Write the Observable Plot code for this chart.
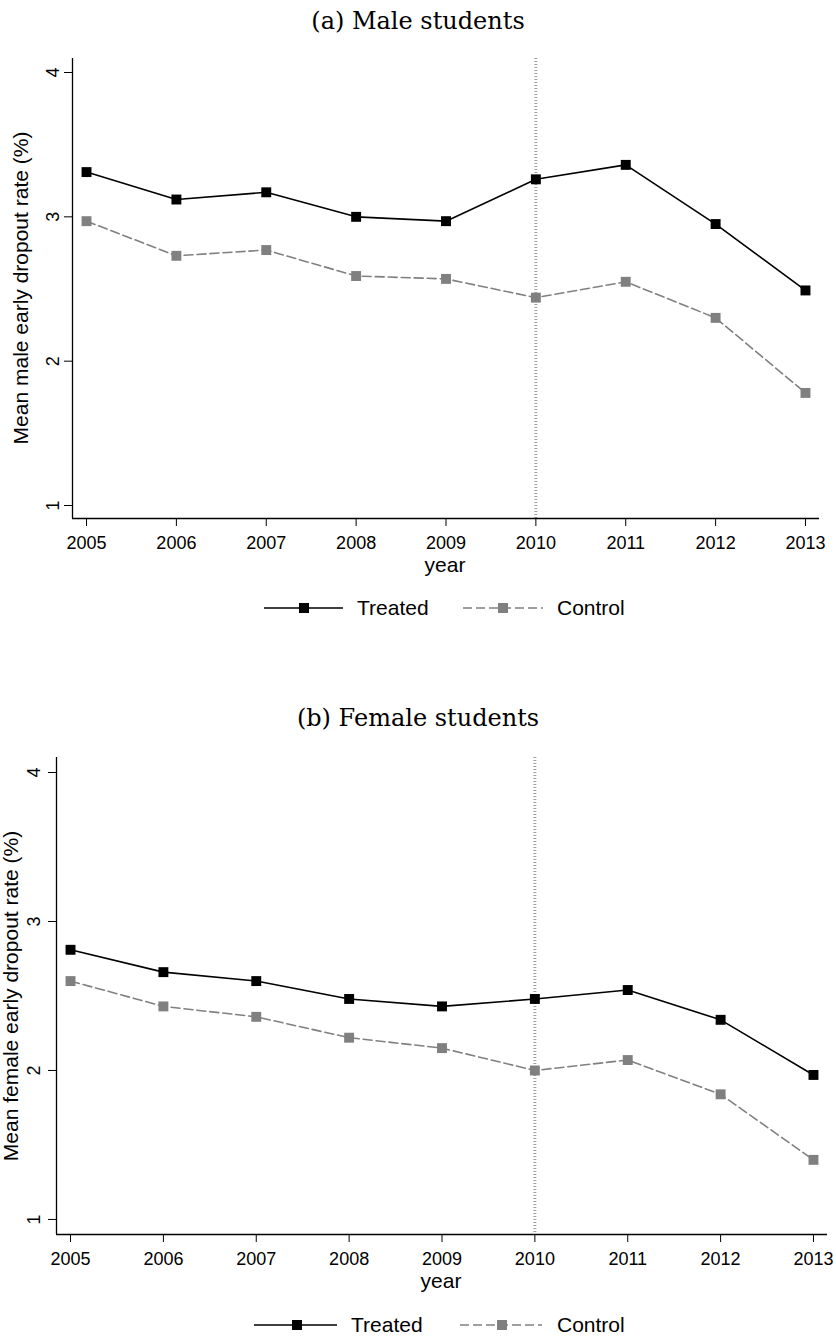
<!DOCTYPE html>
<html><head><meta charset="utf-8">
<script src="https://cdn.jsdelivr.net/npm/d3@7"></script>
<script src="https://cdn.jsdelivr.net/npm/@observablehq/plot@0.6"></script>
<style>
body{margin:0;background:#fff;}
#wrap{position:relative;width:836px;height:1339px;overflow:hidden;background:#fff;font-family:"Liberation Sans",Arial,sans-serif;color:#000;}
.abs{position:absolute;white-space:nowrap;}
.title{left:0;width:836px;text-align:center;font-family:"DejaVu Serif",serif;font-size:24px;transform:translateY(-50%);}
.axlab{font-size:21px;transform:translate(-50%,-50%);}
.ylab{font-size:21px;transform:translate(-50%,-50%) rotate(-90deg);}
.legtext{font-size:21px;transform:translateY(-50%);}
.panel{position:absolute;left:0;}
.panel text{font-size:18px;}
</style></head><body><div id="wrap"></div>
<script>
// ---- data ----
const years = [2005, 2006, 2007, 2008, 2009, 2010, 2011, 2012, 2013];
const yTicks = [1, 2, 3, 4];
const maleTreated   = [3.31, 3.12, 3.17, 3.00, 2.97, 3.26, 3.36, 2.95, 2.49];
const maleControl   = [2.97, 2.73, 2.77, 2.59, 2.57, 2.44, 2.55, 2.30, 1.78];
const femaleTreated = [2.81, 2.66, 2.60, 2.48, 2.43, 2.48, 2.54, 2.34, 1.97];
const femaleControl = [2.60, 2.43, 2.36, 2.22, 2.15, 2.00, 2.07, 1.84, 1.40];
const groups = ["Treated", "Control"];
const policyYear = 2010;

const wrap = document.getElementById("wrap");
function addDiv(cls, text, style) {
  const d = document.createElement("div");
  d.className = "abs " + cls;
  d.textContent = text;
  Object.assign(d.style, style);
  wrap.appendChild(d);
  return d;
}

function makePanel(o) {
  const data = years.flatMap((yr, i) => [
    {year: yr, value: o.treated[i], group: groups[0]},
    {year: yr, value: o.control[i], group: groups[1]}
  ]);
  const tr = data.filter(d => d.group === groups[0]);
  const ct = data.filter(d => d.group === groups[1]);
  const chart = Plot.plot({
    width: 836, height: o.height,
    marginTop: o.marginTop, marginBottom: o.marginBottom,
    marginLeft: o.marginLeft, marginRight: o.marginRight,
    style: {fontFamily: "Liberation Sans, Arial, sans-serif", fontSize: "18px", color: "#000", background: "transparent", overflow: "visible"},
    x: {domain: o.xDomain},
    y: {domain: o.yDomain},
    marks: [
      Plot.ruleX([policyYear], {stroke: "#a0a0a0", strokeWidth: 3, strokeDasharray: "1,2"}),
      Plot.ruleX([o.xDomain[0]], {stroke: "#000", strokeWidth: 1.3}),
      Plot.ruleY([o.yDomain[0]], {stroke: "#000", strokeWidth: 1.3}),
      Plot.axisX({ticks: years, tickFormat: d => String(d), tickSize: 8, tickPadding: 10, label: null, fontSize: 18, stroke: "#000"}),
      Plot.axisY({ticks: yTicks, tickFormat: d => String(d), tickSize: 8, tickPadding: o.yPad, tickRotate: -90, label: null, fontSize: 18}),
      Plot.line(ct, {x: "year", y: "value", stroke: "#808080", strokeWidth: 1.6, strokeDasharray: "9,4"}),
      Plot.line(tr, {x: "year", y: "value", stroke: "#000", strokeWidth: 1.6}),
      Plot.dot(ct, {x: "year", y: "value", symbol: "square", r: 5.6, fill: "#808080", stroke: "none"}),
      Plot.dot(tr, {x: "year", y: "value", symbol: "square", r: 5.6, fill: "#000", stroke: "none"})
    ]
  });
  chart.classList.add("panel");
  chart.style.top = o.top + "px";
  wrap.appendChild(chart);

  addDiv("title", o.title, {top: o.titleY + "px"});
  addDiv("axlab", "year", {left: o.xLabX + "px", top: o.xLabY + "px"});
  addDiv("ylab", o.yLabel, {left: o.yLabX + "px", top: o.yLabY + "px"});

  // legend
  const ly = o.legY;
  const ns = "http://www.w3.org/2000/svg";
  const svg = document.createElementNS(ns, "svg");
  svg.setAttribute("width", 836); svg.setAttribute("height", 30);
  svg.style.position = "absolute"; svg.style.left = "0px"; svg.style.top = (ly - 15) + "px";
  const items = [
    {x1: o.leg[0], x2: o.leg[1], m: o.leg[2], color: "#000", dash: null},
    {x1: o.leg[4], x2: o.leg[5], m: o.leg[6], color: "#808080", dash: "9,4"}
  ];
  items.forEach(it => {
    const l = document.createElementNS(ns, "line");
    l.setAttribute("x1", it.x1); l.setAttribute("x2", it.x2);
    l.setAttribute("y1", 15); l.setAttribute("y2", 15);
    l.setAttribute("stroke", it.color); l.setAttribute("stroke-width", 1.6);
    if (it.dash) l.setAttribute("stroke-dasharray", it.dash);
    svg.appendChild(l);
    const r = document.createElementNS(ns, "rect");
    r.setAttribute("x", it.m - 5); r.setAttribute("y", 10);
    r.setAttribute("width", 10); r.setAttribute("height", 10);
    r.setAttribute("fill", it.color);
    svg.appendChild(r);
  });
  wrap.appendChild(svg);
  addDiv("legtext", groups[0], {left: o.leg[3] + "px", top: ly + "px"});
  addDiv("legtext", groups[1], {left: o.leg[7] + "px", top: ly + "px"});
}

makePanel({
  treated: maleTreated, control: maleControl,
  title: "(a) Male students", yLabel: "Mean male early dropout rate (%)",
  top: 0, height: 580, marginTop: 58, marginBottom: 62, marginLeft: 72, marginRight: 17,
  xDomain: [2004.844, 2013.156], yDomain: [0.91, 4.097], yPad: 6,
  titleY: 21, xLabX: 445, xLabY: 565, yLabX: 21, yLabY: 288,
  legY: 608, leg: [264, 343, 304, 357, 463, 543, 503, 557]
});
makePanel({
  treated: femaleTreated, control: femaleControl,
  title: "(b) Female students", yLabel: "Mean female early dropout rate (%)",
  top: 700, height: 600, marginTop: 57, marginBottom: 66, marginLeft: 56, marginRight: 9,
  xDomain: [2004.849, 2013.151], yDomain: [0.899, 4.1007], yPad: 9,
  titleY: 718, xLabX: 441, xLabY: 1281, yLabX: 11, yLabY: 996,
  legY: 1325, leg: [254, 337, 297, 351, 460, 542, 502, 557]
});
</script></body></html>
